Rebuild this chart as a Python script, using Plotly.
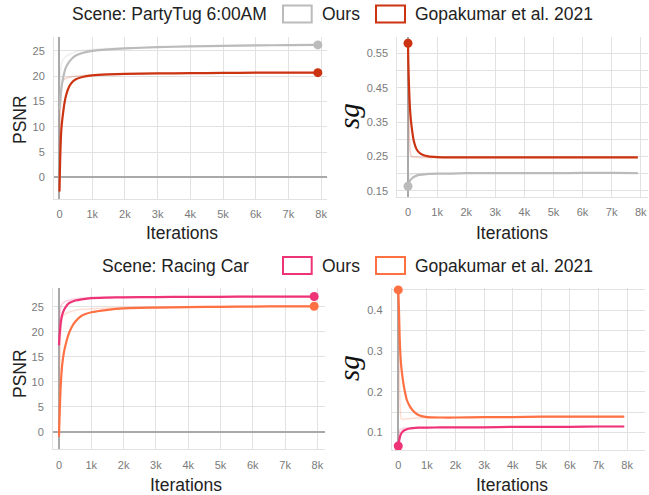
import plotly.graph_objects as go

# ---------------- data ----------------
ITERS = [0, 10, 25, 50, 75, 100, 150, 200, 300, 400, 500, 700, 1000, 1500,
         2000, 3000, 4000, 5000, 6000, 7000, 7900]

# Scene: PartyTug 6:00AM - PSNR
tug_psnr_ours = [13.5, 14.3, 15.5, 17.2, 18.4, 19.3, 20.8, 21.8, 22.9, 23.6, 24.1,
                 24.6, 25.0, 25.3, 25.5, 25.75, 25.9, 26.0, 26.1, 26.15, 26.2]
tug_psnr_ours_raw = [13.5, 17.0, 19.5, 22.0, 22.8, 23.2, 23.6, 23.9, 24.3, 24.6, 24.9,
                     25.1, 25.3, 25.5, 25.6, 25.8, 25.95, 26.05, 26.1, 26.2, 26.2]
tug_psnr_gopa = [-2.8, 0.5, 4.5, 8.8, 10.8, 12.2, 14.6, 16.2, 18.0, 18.9, 19.4,
                 19.85, 20.15, 20.35, 20.45, 20.55, 20.6, 20.65, 20.7, 20.7, 20.7]
tug_psnr_gopa_raw = [-2.8, 8.0, 13.0, 16.5, 18.3, 19.0, 19.4, 19.6, 19.8, 19.9, 20.0,
                     20.1, 20.3, 20.4, 20.5, 20.6, 20.6, 20.7, 20.7, 20.7, 20.7]

# Scene: PartyTug 6:00AM - s_g
tug_sg_ours = [0.163, 0.166, 0.170, 0.176, 0.180, 0.183, 0.187, 0.190, 0.194, 0.196,
               0.197, 0.199, 0.200, 0.200, 0.201, 0.201, 0.201, 0.201, 0.202, 0.202, 0.201]
tug_sg_ours_raw = [0.163, 0.176, 0.186, 0.193, 0.196, 0.197, 0.198, 0.199, 0.199, 0.200,
                   0.200, 0.200, 0.200, 0.200, 0.201, 0.201, 0.201, 0.201, 0.202, 0.202, 0.201]
tug_sg_gopa = [0.580, 0.530, 0.480, 0.420, 0.380, 0.355, 0.320, 0.295, 0.270, 0.260,
               0.255, 0.250, 0.248, 0.247, 0.247, 0.247, 0.247, 0.247, 0.247, 0.247, 0.247]
tug_sg_gopa_raw = [0.580, 0.470, 0.380, 0.300, 0.265, 0.252, 0.249, 0.248, 0.248, 0.247,
                   0.247, 0.247, 0.247, 0.247, 0.247, 0.247, 0.247, 0.247, 0.247, 0.247, 0.247]

# Scene: Racing Car - PSNR
car_psnr_ours = [17.3, 18.5, 19.8, 21.6, 22.7, 23.4, 24.3, 24.9, 25.7, 26.0, 26.25,
                 26.5, 26.75, 26.85, 26.9, 26.95, 27.0, 27.0, 27.05, 27.05, 27.05]
car_psnr_ours_raw = [17.3, 21.0, 23.0, 24.8, 25.3, 25.6, 25.9, 26.1, 26.3, 26.45, 26.55,
                     26.7, 26.85, 26.9, 26.95, 27.0, 27.0, 27.05, 27.05, 27.05, 27.05]
car_psnr_gopa = [-1.0, 1.5, 4.5, 8.8, 11.6, 13.5, 15.8, 17.3, 19.6, 21.0, 22.0,
                 23.2, 23.9, 24.4, 24.7, 24.85, 24.95, 25.0, 25.05, 25.1, 25.1]
car_psnr_gopa_raw = [-1.0, 8.0, 14.0, 19.5, 21.8, 22.7, 23.3, 23.6, 23.9, 24.1, 24.3,
                     24.5, 24.6, 24.75, 24.85, 24.95, 25.0, 25.05, 25.1, 25.1, 25.1]

# Scene: Racing Car - s_g
car_sg_ours = [0.067, 0.072, 0.078, 0.087, 0.093, 0.097, 0.102, 0.105, 0.108, 0.110,
               0.111, 0.112, 0.112, 0.113, 0.113, 0.113, 0.114, 0.114, 0.114, 0.115, 0.115]
car_sg_ours_raw = [0.067, 0.085, 0.095, 0.105, 0.108, 0.109, 0.110, 0.111, 0.111, 0.112,
                   0.112, 0.112, 0.112, 0.113, 0.113, 0.113, 0.114, 0.114, 0.114, 0.115, 0.115]
car_sg_gopa = [0.450, 0.430, 0.400, 0.330, 0.290, 0.265, 0.235, 0.212, 0.180, 0.165,
               0.155, 0.143, 0.138, 0.137, 0.137, 0.138, 0.138, 0.139, 0.139, 0.139, 0.139]
car_sg_gopa_raw = [0.450, 0.370, 0.300, 0.200, 0.150, 0.135, 0.132, 0.133, 0.134, 0.134,
                   0.135, 0.136, 0.137, 0.137, 0.137, 0.138, 0.138, 0.139, 0.139, 0.139, 0.139]

X_TICKS = [0, 1000, 2000, 3000, 4000, 5000, 6000, 7000, 8000]
X_TICKTEXT = ["0", "1k", "2k", "3k", "4k", "5k", "6k", "7k", "8k"]
PSNR_TICKS = [0, 5, 10, 15, 20, 25]
TUG_SG_TICKS = [0.15, 0.25, 0.35, 0.45, 0.55]
TUG_SG_MINOR = [0.2, 0.3, 0.4, 0.5]
CAR_SG_TICKS = [0.1, 0.2, 0.3, 0.4]
CAR_SG_MINOR = [0.05, 0.15, 0.25, 0.35, 0.45]

TITLES = ["Scene: PartyTug 6:00AM", "Scene: Racing Car"]
NAMES = ["Ours", "Gopakumar et al. 2021"]

GRAY = "#bbbbbb"
RED = "#cc3311"
PINK = "#ee3377"
ORANGE = "#ff7043"

W, H = 649, 495
FONT = "Liberation Sans, Arial, Helvetica, sans-serif"


def px(x):
    return x / W


def py(y):
    return 1 - y / H


fig = go.Figure()

panels = [
    ("", [(tug_psnr_ours, tug_psnr_ours_raw, GRAY), (tug_psnr_gopa, tug_psnr_gopa_raw, RED)],
     True, (54, 327), (37.3, 199), (-168, 8180), (-4.29, 27.7)),
    ("2", [(tug_sg_ours, tug_sg_ours_raw, GRAY), (tug_sg_gopa, tug_sg_gopa_raw, RED)],
     False, (397.3, 648), (36.7, 196.7), (-368, 8250), (0.1325, 0.599)),
    ("3", [(car_psnr_ours, car_psnr_ours_raw, PINK), (car_psnr_gopa, car_psnr_gopa_raw, ORANGE)],
     True, (53, 325), (288.3, 449.3), (-186, 8235), (-3.5, 28.7)),
    ("4", [(car_sg_ours, car_sg_ours_raw, PINK), (car_sg_gopa, car_sg_gopa_raw, ORANGE)],
     False, (391.7, 645), (288.3, 450), (-230, 8625), (0.0573, 0.454)),
]

for suf, series, end_marker, xd, yd, xr, yr in panels:
    xa = "x" + suf
    ya = "y" + suf
    for smooth, raw, col in series:
        fig.add_trace(go.Scatter(x=ITERS, y=raw, mode="lines", xaxis=xa, yaxis=ya,
                                 line=dict(color=col, width=1.5, shape="spline", smoothing=0.5),
                                 opacity=0.22, showlegend=False, hoverinfo="skip"))
    for smooth, raw, col in series:
        fig.add_trace(go.Scatter(x=ITERS, y=smooth, mode="lines", xaxis=xa, yaxis=ya,
                                 line=dict(color=col, width=2.2, shape="spline", smoothing=0.6),
                                 showlegend=False))
    for smooth, raw, col in series:
        idx = -1 if end_marker else 0
        fig.add_trace(go.Scatter(x=[ITERS[idx]], y=[smooth[idx]], mode="markers",
                                 xaxis=xa, yaxis=ya, cliponaxis=False,
                                 marker=dict(color=col, size=9), showlegend=False))

grid = "#e2e2e2"
zl = "#a9a9a9"
tickfont = dict(family=FONT, size=11, color="#7a7a7a")

layout = {}
for i, (suf, series, end_marker, xd, yd, xr, yr) in enumerate(panels):
    xk = "xaxis" + suf
    yk = "yaxis" + suf
    layout[xk] = dict(domain=[px(xd[0]), px(xd[1])], range=list(xr), anchor="y" + suf,
                      tickvals=X_TICKS, ticktext=X_TICKTEXT, showgrid=True, gridcolor=grid,
                      gridwidth=1, zeroline=True, zerolinecolor=zl, zerolinewidth=2,
                      showline=True, linecolor=grid, linewidth=1, ticks="",
                      tickfont=tickfont, ticklabelstandoff=5)
    if suf in ("", "3"):
        yt = dict(tickvals=PSNR_TICKS, ticktext=[str(v) for v in PSNR_TICKS])
        minor = None
    elif suf == "2":
        yt = dict(tickvals=TUG_SG_TICKS, ticktext=["%.2f" % v for v in TUG_SG_TICKS])
        minor = dict(tickvals=TUG_SG_MINOR, showgrid=True, gridcolor=grid, gridwidth=1, ticks="")
    else:
        yt = dict(tickvals=CAR_SG_TICKS, ticktext=["%.1f" % v for v in CAR_SG_TICKS])
        minor = dict(tickvals=CAR_SG_MINOR, showgrid=True, gridcolor=grid, gridwidth=1, ticks="")
    ydict = dict(domain=[py(yd[1]), py(yd[0])], range=list(yr), anchor="x" + suf,
                 showgrid=True, gridcolor=grid, gridwidth=1, zeroline=True,
                 zerolinecolor=zl, zerolinewidth=2, showline=True, linecolor=grid,
                 linewidth=1, ticks="", tickfont=tickfont, ticklabelstandoff=6, **yt)
    if minor:
        ydict["minor"] = minor
    layout[yk] = ydict

annotations = []
shapes = []
txtfont = dict(family=FONT, size=17.5, color="#222222")

rows = [(14, TITLES[0], 70, (GRAY, RED)), (265.5, TITLES[1], 99.5, (PINK, ORANGE))]
for yc, title, tx, cols in rows:
    annotations.append(dict(x=px(tx), y=py(yc), xref="paper", yref="paper", text=title,
                            showarrow=False, xanchor="left", yanchor="middle", font=txtfont))
    boxes = [(283, 311.7, 320, NAMES[0], cols[0]), (376, 405, 413, NAMES[1], cols[1])]
    for bx0, bx1, ltx, name, col in boxes:
        shapes.append(dict(type="rect", xref="paper", yref="paper",
                           x0=px(bx0), x1=px(bx1), y0=py(yc - 8.5), y1=py(yc + 8.5),
                           line=dict(color=col, width=2), fillcolor="white"))
        annotations.append(dict(x=px(ltx), y=py(yc), xref="paper", yref="paper", text=name,
                                showarrow=False, xanchor="left", yanchor="middle", font=txtfont))

for yc in (120, 374):
    annotations.append(dict(x=px(20), y=py(yc), xref="paper", yref="paper", text="PSNR",
                            textangle=-90, showarrow=False, xanchor="center", yanchor="middle",
                            font=txtfont))
for xc, yc in ((182, 233), (511.5, 233), (185.5, 485), (511.5, 485)):
    annotations.append(dict(x=px(xc), y=py(yc), xref="paper", yref="paper", text="Iterations",
                            showarrow=False, xanchor="center", yanchor="middle", font=txtfont))
for yc in (116, 368):
    annotations.append(dict(x=px(349), y=py(yc), xref="paper", yref="paper",
                            text="<i>s</i><i>g</i>", textangle=-90, showarrow=False,
                            xanchor="center", yanchor="middle",
                            font=dict(family="Liberation Serif, DejaVu Serif, serif", size=29,
                                      color="#111111")))

fig.update_layout(width=W, height=H, margin=dict(l=0, r=0, t=0, b=0),
                  paper_bgcolor="white", plot_bgcolor="white", showlegend=False,
                  annotations=annotations, shapes=shapes, **layout)

fig.write_html("out.html", config={"displayModeBar": False},
               post_script="document.body.style.margin='0';document.body.style.padding='0';"
                           "document.body.style.overflow='hidden';")
